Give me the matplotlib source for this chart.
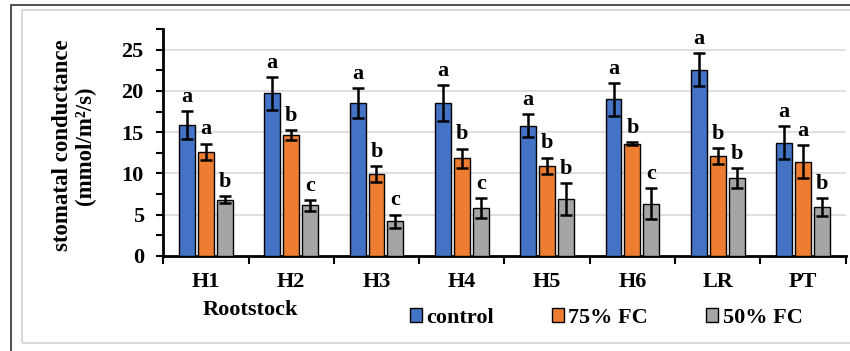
import matplotlib.pyplot as plt
import numpy as np
from matplotlib.patches import Rectangle

plt.rcParams['font.family'] = ['Liberation Serif', 'DejaVu Serif']
plt.rcParams['font.weight'] = 'bold'

categories = ['H1', 'H2', 'H3', 'H4', 'H5', 'H6', 'LR', 'PT']
series = ['control', '75% FC', '50% FC']
colors = ['#4472C4', '#ED7D31', '#A5A5A5']

control = [15.9, 19.7, 18.5, 18.5, 15.8, 19.0, 22.6, 13.7]
fc75 = [12.6, 14.6, 9.9, 11.8, 10.9, 13.6, 12.1, 11.4]
fc50 = [6.8, 6.1, 4.2, 5.8, 6.9, 6.3, 9.4, 5.9]

err_control = [1.7, 2.0, 1.8, 2.2, 1.4, 2.0, 2.0, 2.0]
err_75 = [1.0, 0.6, 1.0, 1.2, 1.0, 0.15, 1.0, 2.0]
err_50 = [0.4, 0.7, 0.8, 1.2, 1.9, 1.9, 1.2, 1.1]

letters_control = ['a', 'a', 'a', 'a', 'a', 'a', 'a', 'a']
letters_75 = ['a', 'b', 'b', 'b', 'b', 'b', 'b', 'a']
letters_50 = ['b', 'c', 'c', 'c', 'b', 'c', 'b', 'b']

values = [control, fc75, fc50]
errors = [err_control, err_75, err_50]
letters = [letters_control, letters_75, letters_50]

fig = plt.figure(figsize=(8.5, 3.51), dpi=100)
ax = fig.add_axes([0.192, 0.2715, 0.803, 0.6455])

# screenshot-like frame
fig.patches.append(Rectangle((11 / 850, -0.1), 1.2, 1 - 5 / 351 + 0.1,
                             transform=fig.transFigure, fill=False,
                             edgecolor='#333333', linewidth=1.2))
fig.patches.append(Rectangle((22 / 850, 1 - 343 / 351), 1.2, (343 - 10) / 351,
                             transform=fig.transFigure, fill=False,
                             edgecolor='#d9d9d9', linewidth=1.5))

x = np.arange(len(categories))
w = 0.187
step = 0.222
for i in range(3):
    pos = x + (i - 1) * step
    ax.bar(pos, values[i], width=w, color=colors[i], edgecolor='black',
           linewidth=1.0, zorder=3)
    ax.errorbar(pos, values[i], yerr=errors[i], fmt='none', ecolor='black',
                elinewidth=1.8, capsize=4.3, capthick=1.8, zorder=4)
    for j in range(len(categories)):
        ax.annotate(letters[i][j], (pos[j], values[i][j] + errors[i][j]),
                    xytext=(0, 3), textcoords='offset points', ha='center',
                    va='bottom', fontsize=16, fontweight='bold')

ax.set_xlim(-0.5, len(categories) - 0.5)
ax.set_ylim(0, 27.5)
yt = np.arange(0, 27.6, 2.5)
ax.set_yticks(yt)
ax.set_yticklabels(['' if (t % 5) else str(int(t)) for t in yt])
ax.tick_params(axis='y', direction='out', length=5, width=1.5, labelsize=16, pad=9)
ax.set_xticks(x)
ax.set_xticklabels(categories, fontsize=16, fontweight='bold')
ax.tick_params(axis='x', length=0, pad=12)
ax.set_xticks(np.arange(-0.5, len(categories)), minor=True)
ax.tick_params(axis='x', which='minor', direction='out', length=6, width=1.5)

for t in ax.get_yticklabels():
    t.set_fontweight('bold')

ax.grid(axis='y', color='#d9d9d9', linewidth=1.2, zorder=0)
for k, g in enumerate(ax.get_ygridlines()):
    if k % 2 == 1 or k == 0:
        g.set_visible(False)
ax.set_axisbelow(True)

ax.spines['top'].set_visible(False)
ax.spines['right'].set_visible(False)
ax.spines['left'].set_linewidth(2)
ax.spines['bottom'].set_linewidth(2)

fig.text(0.087, 0.585, 'stomatal conductance\n(mmol/m²/s)', rotation=90,
         ha='center', va='center', fontsize=16.5, fontweight='bold',
         linespacing=1.15)
fig.text(250 / 850, 1 - 310 / 351, 'Rootstock', ha='center', va='center',
         fontsize=16, fontweight='bold')

handles = [Rectangle((0, 0), 1, 1, facecolor=c, edgecolor='black', linewidth=1)
           for c in colors]
fig.legend(handles, series, loc='center', bbox_to_anchor=(0.713, 0.094),
           ncol=3, frameon=False, handlelength=0.55,
           handleheight=0.55, handletextpad=0.2, columnspacing=2.6,
           prop={'weight': 'bold', 'size': 16})

fig.savefig('out.png', dpi=100)
